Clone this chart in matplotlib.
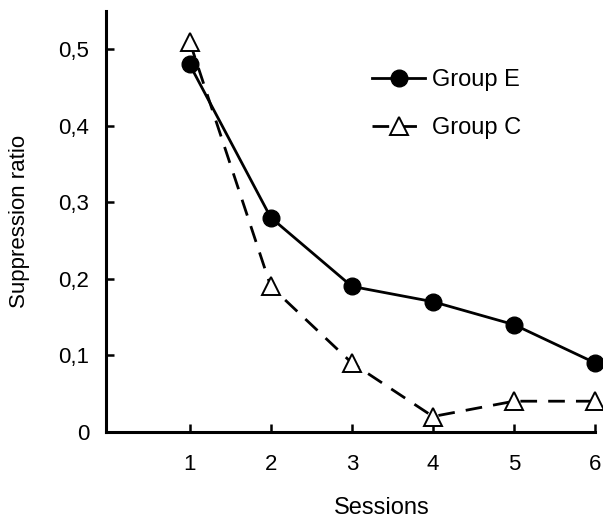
import matplotlib
matplotlib.use("Agg")
import matplotlib.pyplot as plt

plt.rcParams["font.family"] = ["Liberation Sans", "DejaVu Sans"]

sessions = [1, 2, 3, 4, 5, 6]
group_e = [0.48, 0.28, 0.19, 0.17, 0.14, 0.09]
group_c = [0.51, 0.19, 0.09, 0.02, 0.04, 0.04]
y_ticks = [0, 0.1, 0.2, 0.3, 0.4, 0.5]
y_labels = ["0", "0,1", "0,2", "0,3", "0,4", "0,5"]

fig = plt.figure(figsize=(6.03, 5.19), dpi=100)
ax = fig.add_axes([0.176, 0.168, 0.811, 0.811])

ax.plot(sessions, group_e, "-", color="black", lw=2, marker="o",
        markersize=12, markerfacecolor="black", label="Group E", clip_on=False, zorder=3)
ax.plot(sessions, group_c, "--", color="black", lw=2, dashes=(6, 4), marker="^",
        markersize=13, markerfacecolor="white", markeredgewidth=1.4,
        label="Group C", clip_on=False, zorder=4)

ax.set_xlim(-0.03, 6.0)
ax.set_ylim(0, 0.55)
ax.set_xticks(sessions)
ax.set_yticks(y_ticks)
ax.set_yticklabels(y_labels)

ax.spines["top"].set_visible(False)
ax.spines["right"].set_visible(False)
ax.spines["left"].set_linewidth(2.2)
ax.spines["bottom"].set_linewidth(2.2)
ax.tick_params(direction="in", length=6, width=1.8, labelsize=16)
ax.tick_params(axis="x", pad=16)
ax.tick_params(axis="y", pad=12)

ax.set_xlabel("Sessions", fontsize=17)
ax.set_ylabel("Suppression ratio", fontsize=16)
ax.xaxis.set_label_coords(0.564, -0.155)
ax.yaxis.set_label_coords(-0.155, 0.5)

ax.legend(loc="upper left", bbox_to_anchor=(0.544, 0.862), frameon=False,
          borderaxespad=0, borderpad=0, fontsize=17, handlelength=2.25,
          labelspacing=1.1, handletextpad=0.3)

fig.savefig("out.png", dpi=100)
